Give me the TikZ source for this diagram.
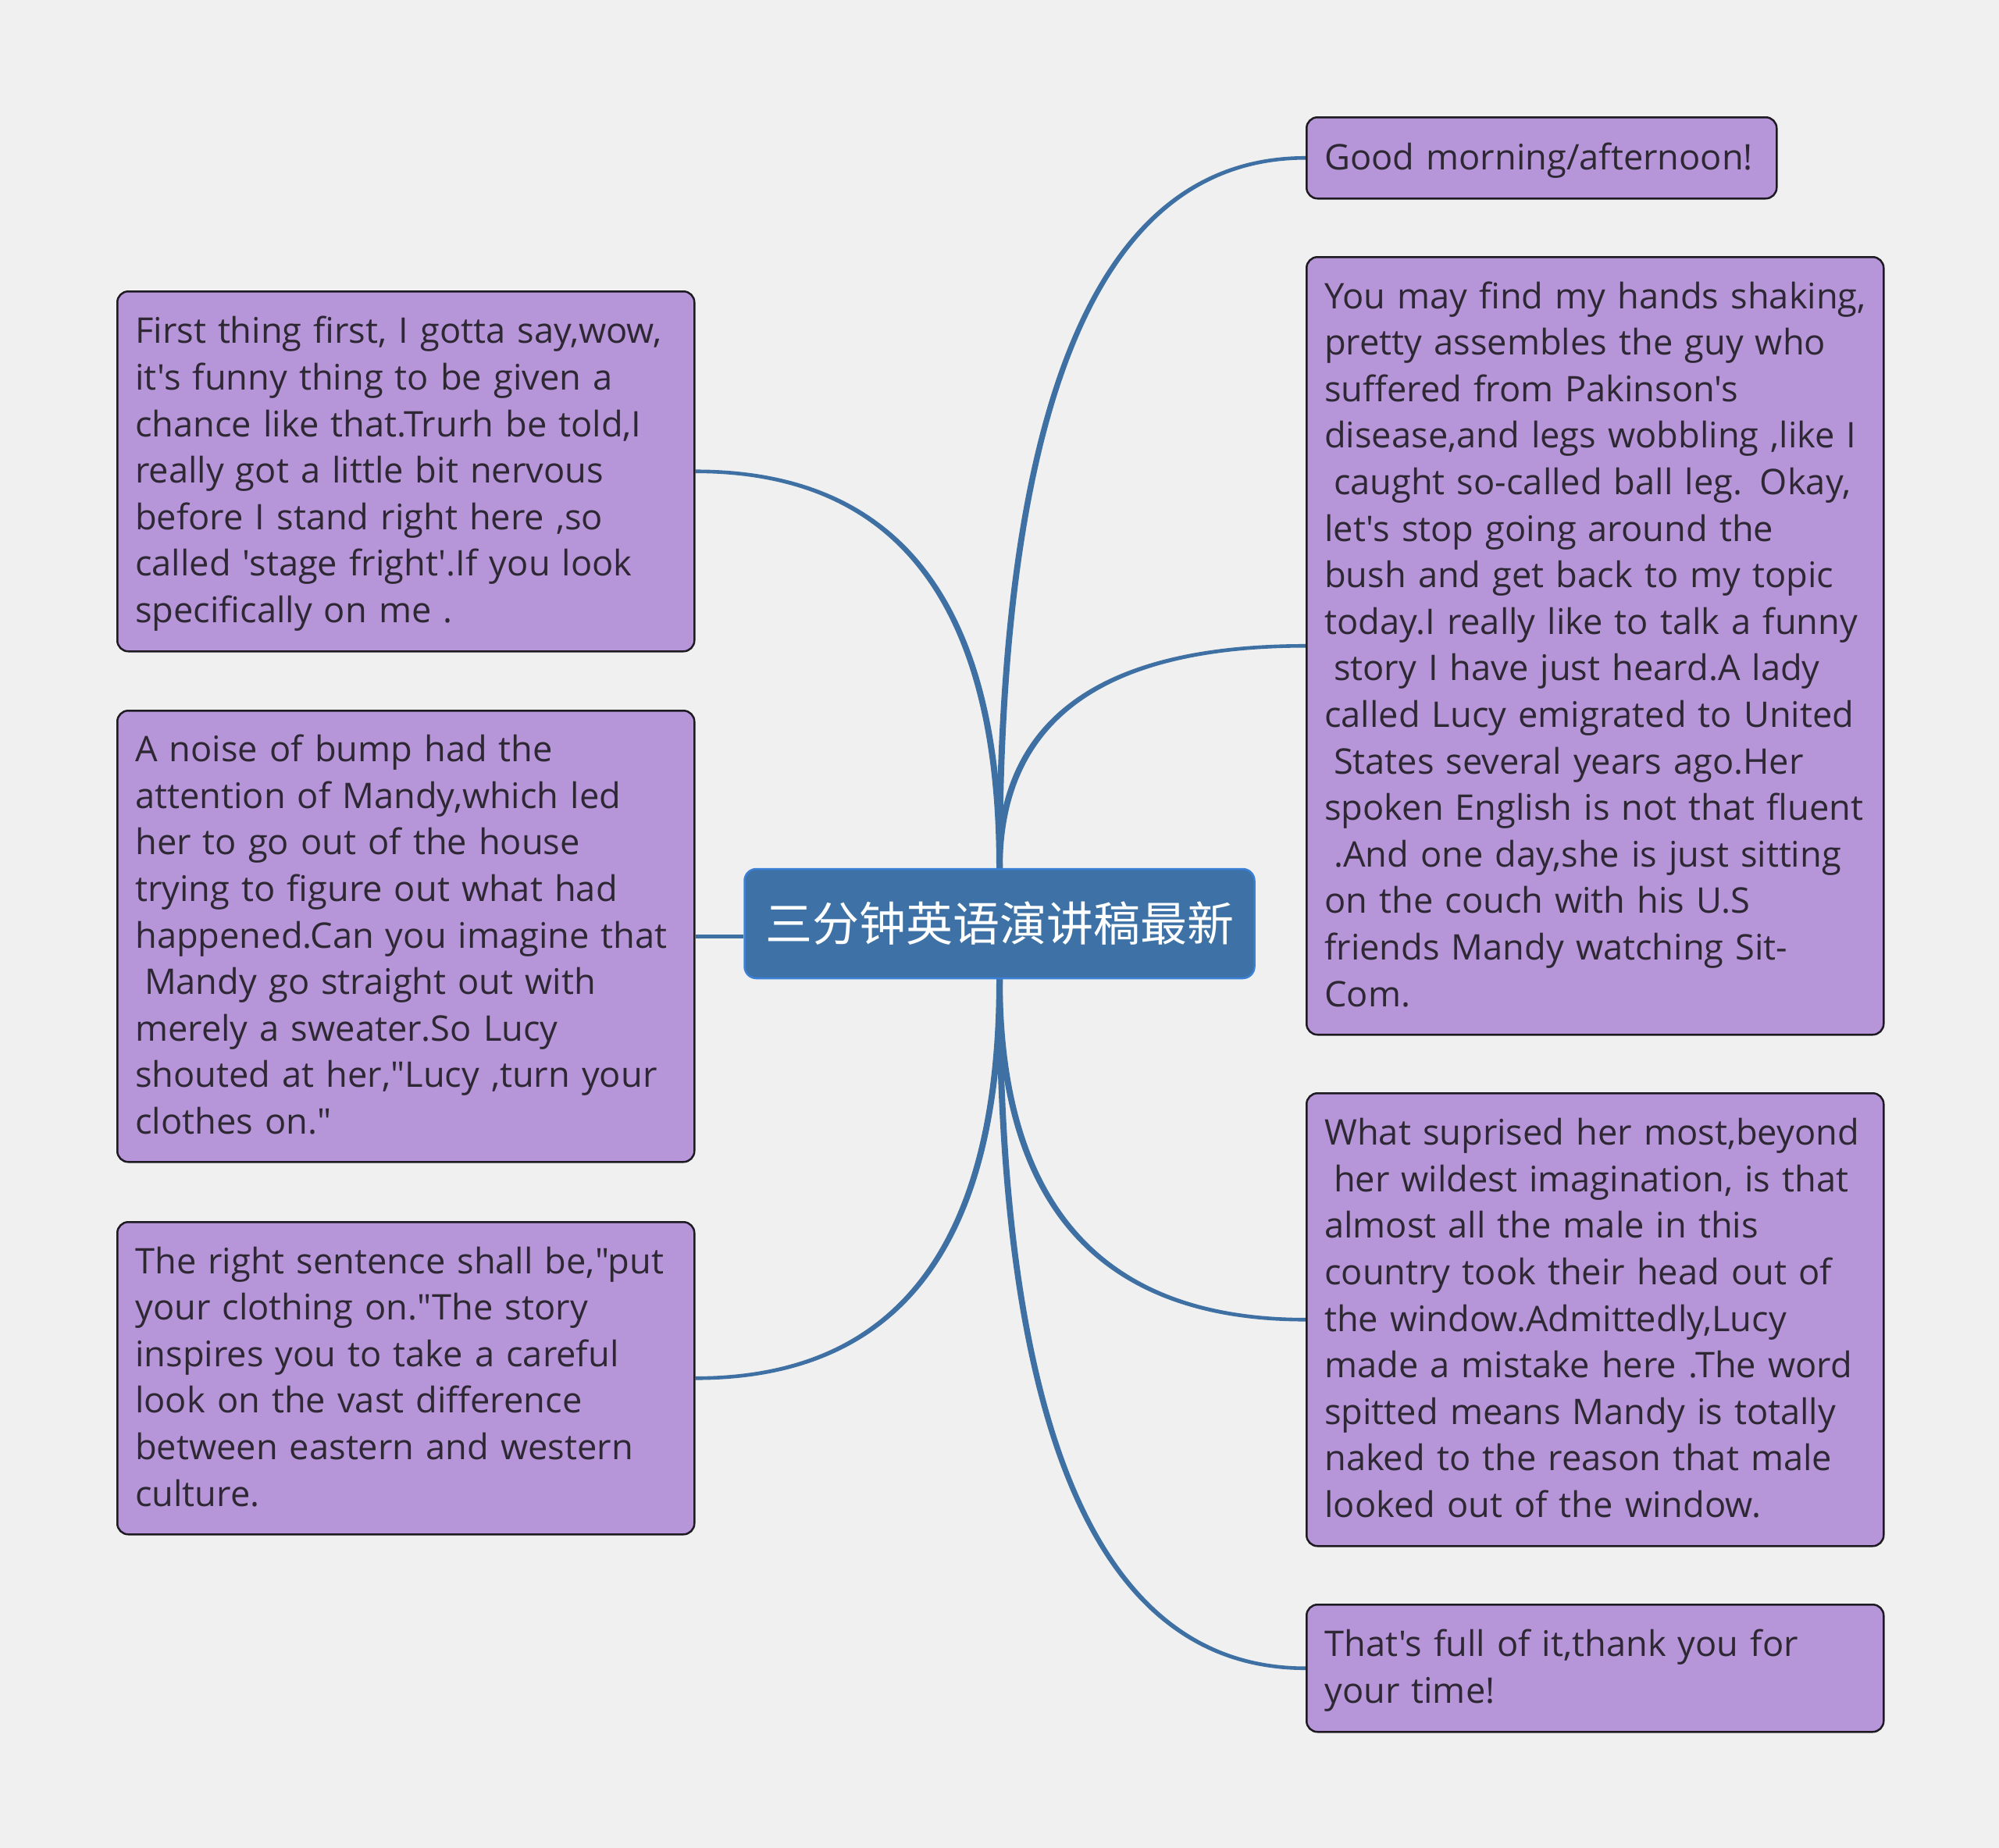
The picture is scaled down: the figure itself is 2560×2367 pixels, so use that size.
\documentclass[tikz,border=0pt]{standalone}
\usepackage{fontspec}
\setmainfont{Open Sans}[Ligatures=TeXOff]
\newfontfamily\cjk{Noto Sans CJK SC}
\usetikzlibrary{calc}
\pgfdeclarelayer{bglayer}
\pgfdeclarelayer{linklayer}
\pgfsetlayers{bglayer,linklayer,main}
\definecolor{bgc}{HTML}{F0F0F0}
\definecolor{boxfill}{HTML}{B795D9}
\definecolor{boxline}{HTML}{1E1A22}
\definecolor{txtc}{HTML}{2D2833}
\definecolor{cfill}{HTML}{3E72A6}
\definecolor{cline}{HTML}{3A80D6}
\definecolor{connc}{HTML}{3E70A3}
\newcommand\lsp{\hspace*{0.26em}}
\newcommand\tb[1]{\raisebox{-3pt}[\height][\depth]{\begin{tabular}{@{}l@{}}#1\end{tabular}}}
% tapered connector: #1 box anchor, #2 centre anchor, #3 half width at centre (signed), #4 half width at box (signed)
\newcommand\taper[4]{%
  \coordinate (a1) at ($(#1)+(0,#4)$);
  \coordinate (a2) at ($(#2)+(#3,0)$);
  \coordinate (aq) at ($(#1 -| #2)+(#3,#4)$);
  \coordinate (b1) at ($(#1)-(0,#4)$);
  \coordinate (b2) at ($(#2)-(#3,0)$);
  \coordinate (bq) at ($(#1 -| #2)-(#3,#4)$);
  \fill[connector] (a1) .. controls ($(a1)!2/3!(aq)$) and ($(a2)!2/3!(aq)$) .. (a2)
    -- (b2) .. controls ($(b2)!2/3!(bq)$) and ($(b1)!2/3!(bq)$) .. (b1) -- cycle;}
\begin{document}
\begin{tikzpicture}[x=1pt,y=-1pt,
  leaf/.style={draw=boxline, line width=2.5pt, fill=boxfill, rounded corners=14pt,
    anchor=north west, inner xsep=23pt, inner ysep=0pt, align=left, text=txtc,
    font=\fontsize{45.2}{59.6}\selectfont},
  root/.style={draw=cline, line width=2.5pt, fill=cfill, rounded corners=15pt,
    text=white, font=\cjk\fontsize{60}{66}\selectfont, inner sep=0pt,
    minimum width=653pt, minimum height=140pt},
  connector/.style={fill=connc}]
\begin{pgfonlayer}{bglayer}
\fill[bgc] (0,0) rectangle (2560,2367);
\end{pgfonlayer}
\useasboundingbox (0,0) rectangle (2560,2367);

\coordinate (cpos) at (1280,1183);

\path (149,372) node[leaf, text width=693pt, minimum height=461pt] (L1) {\tb{%
First thing first, I gotta say,wow,\\
it's funny thing to be given a\\
chance like that.Trurh be told,I\\
really got a little bit nervous\\
before I stand right here ,so\\
called 'stage fright'.If you look\\
specifically on me .}};

\path (149,909) node[leaf, text width=693pt, minimum height=578pt] (L2) {\tb{%
A noise of bump had the\\
attention of Mandy,which led\\
her to go out of the house\\
trying to figure out what had\\
happened.Can you imagine that\\
\lsp Mandy go straight out with\\
merely a sweater.So Lucy\\
shouted at her,"Lucy ,turn your\\
clothes on."}};

\path (149,1564) node[leaf, text width=693pt, minimum height=400pt] (L3) {\tb{%
The right sentence shall be,"put\\
your clothing on."The story\\
inspires you to take a careful\\
look on the vast difference\\
between eastern and western\\
culture.}};

\path (1672,149) node[leaf, text width=556pt, minimum height=104pt] (R1) {\tb{%
Good morning/afternoon!}};

\path (1672,328) node[leaf, text width=693pt, minimum height=996pt] (R2) {\tb{%
You may find my hands shaking,\\
pretty assembles the guy who\\
suffered from Pakinson's\\
disease,and legs wobbling ,like I\\
\lsp caught so-called ball leg. Okay,\\
let's stop going around the\\
bush and get back to my topic\\
today.I really like to talk a funny\\
\lsp story I have just heard.A lady\\
called Lucy emigrated to United\\
\lsp States several years ago.Her\\
spoken English is not that fluent\\
\lsp .And one day,she is just sitting\\
on the couch with his U.S\\
friends Mandy watching Sit-\\
Com.}};

\path (1672,1399) node[leaf, text width=693pt, minimum height=580pt] (R3) {\tb{%
What suprised her most,beyond\\
\lsp her wildest imagination, is that\\
almost all the male in this\\
country took their head out of\\
the window.Admittedly,Lucy\\
made a mistake here .The word\\
spitted means Mandy is totally\\
naked to the reason that male\\
looked out of the window.}};

\path (1672,2054) node[leaf, text width=693pt, minimum height=163pt] (R4) {\tb{%
That's full of it,thank you for\\
your time!}};

\node[root] (c) at (cpos) {三分钟英语演讲稿最新};

\begin{pgfonlayer}{linklayer}
\taper{L1.east}{c.north}{4}{-2.3}
\taper{R1.west}{c.north}{-4}{-2.3}
\taper{R2.west}{c.north}{-4}{-2.3}
\taper{L3.east}{c.south}{4}{2.3}
\taper{R3.west}{c.south}{-4}{2.3}
\taper{R4.west}{c.south}{-4}{2.3}
\draw[draw=connc, line width=5pt] (L2.east) -- (L2.east -| c.west);
\end{pgfonlayer}
\end{tikzpicture}
\end{document}
